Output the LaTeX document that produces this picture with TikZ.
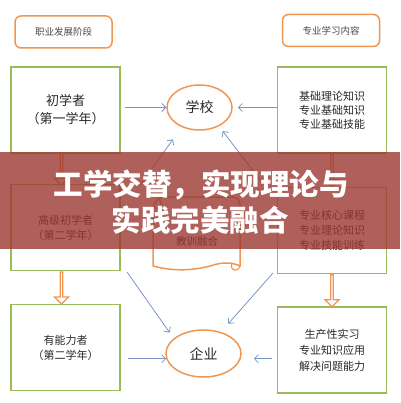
\documentclass[tikz,border=0pt]{standalone}
\usepackage{fontspec}
\setmainfont{Noto Sans CJK SC}
\usetikzlibrary{calc, shapes.geometric, shapes.arrows}
\usetikzlibrary{arrows.meta}
\definecolor{boxgreen}{RGB}{155,187,89}
\definecolor{boxorange}{RGB}{240,150,80}
\definecolor{linkblue}{RGB}{120,150,200}
\definecolor{bannerred}{RGB}{156,56,49}
\definecolor{inkgray}{RGB}{40,40,40}
\tikzstyle{headbox}=[
rectangle,
rounded corners=6pt,
draw=boxorange,
line width=1.5pt,
minimum width=97pt,
minimum height=32pt,
text=inkgray!85,
font=\fontsize{9.5}{11}\selectfont,
]
\tikzstyle{stagebox}=[
rectangle,
draw=boxgreen,
line width=1.5pt,
minimum width=109pt,
minimum height=86pt,
align=center,
text=inkgray,
font=\fontsize{11}{15}\selectfont,
]
\tikzstyle{place}=[
ellipse,
draw=boxorange,
line width=1.5pt,
inner sep=0pt,
text=inkgray,
font=\fontsize{14}{16}\selectfont,
]
\tikzstyle{passarrow}=[
single arrow,
draw=boxorange,
fill=white,
line width=1.2pt,
shape border rotate=270,
minimum height=32pt,
minimum width=14pt,
single arrow head extend=3pt,
inner sep=0pt,
]
\tikzstyle{link}=[draw=linkblue, line width=0.8pt, ->]
\tikzstyle{bannertext}=[text=white, font=\fontsize{29.5}{32}\selectfont\bfseries]

\begin{document}
\begin{tikzpicture}
        [x=1pt, y=-1pt, >={Straight Barb[length=4pt,width=8pt]}]
        \useasboundingbox (0,0) rectangle (400,403);
        \node[headbox] (stages) at (63.5,32) {职业发展阶段};
        \node[headbox] (topics) at (331,30.5) {专业学习内容};

        \begin{scope}[every node/.style=stagebox]
          \node[font=\fontsize{13}{18}\selectfont] (novice) at (65.5,110) {初学者\\（第一学年）};
          \node (advanced) at (65.5,227.5) {高级初学者\\（第二学年）};
          \node (competent) at (65.5,347.5) {有能力者\\（第二学年）};
          \node[font=\fontsize{11}{14}\selectfont] (basics) at (332,110) {基础理论知识\\专业基础知识\\专业基础技能};
          \node (core) at (332,230.5) {专业核心课程\\专业理论知识\\专业技能训练};
          \node[font=\fontsize{11}{16}\selectfont] (practice) at (332,350) {生产性实习\\专业知识应用\\解决问题能力};
        \end{scope}

        \node[place, minimum width=65pt, minimum height=45pt] (school) at (199.5,107.5) {学校};
        \node[place, minimum width=75pt, minimum height=47pt] (firm) at (203.5,353.5) {企业};

        \node[passarrow] (p1) at ($(novice.south)!0.5!(advanced.north)+(-4,0)$) {};
        \node[passarrow] (p2) at ($(advanced.south)!0.5!(competent.north)+(-4,0)$) {};
        \node[passarrow] (p3) at ($(basics.south)!0.5!(core.north)$) {};
        \node[passarrow] (p4) at ($(core.south)!0.5!(practice.north)$) {};

        \coordinate (ul) at (140,185);
        \coordinate (ur) at (264,185);
        \coordinate (ll) at (127,272);
        \coordinate (lr) at (273,273);

        \draw[link, shorten <=4pt] (novice.east |- school.west) -- (school.west);
        \draw[link, shorten >=5pt] (basics.west |- school.east) -- (school.east);
        \draw[link, shorten <=7pt] (competent.east |- firm.188) -- (firm.188);
        \draw[link, shorten <=5pt, shorten >=13pt] (practice.west |- firm.-8) -- (firm.-8);
        \draw[link, shorten >=15pt] (ul) -- (school.228);
        \draw[link, shorten >=6pt] (ur) -- (school.-44);
        \draw[link, shorten >=7pt] (ll) -- (firm.153);
        \draw[link, shorten >=11pt] (lr) -- (firm.51.5);

        \draw[boxorange, line width=1.5pt, line join=round]
          (153,210) -- (153,266)
          .. controls (175,272) and (195,270) .. (210,266)
          .. controls (222,262) and (232,262) .. (240,266)
          -- (240,205)
          .. controls (240,199) and (236,197) .. (230,197)
          -- (165,197)
          .. controls (158,197) and (153,202) .. (153,210);
        \draw[boxorange, line width=1.2pt] (232,263) .. controls (229,271) and (238,273) .. (240,266);
        \draw[boxorange, line width=1.2pt] (153,206) .. controls (158,212) and (164,206) .. (160,200);
        \node[text=inkgray, font=\fontsize{10.5}{12}\selectfont] (merge) at (197,242) {教训融合};

        \fill[bannerred, opacity=0.8] (0,152) rectangle (400,249);
        \node[bannertext] (title1) at (201,185) {工学交替，实现理论与};
        \node[bannertext] (title2) at (200,220) {实践完美融合};
      \end{tikzpicture}
\end{document}
